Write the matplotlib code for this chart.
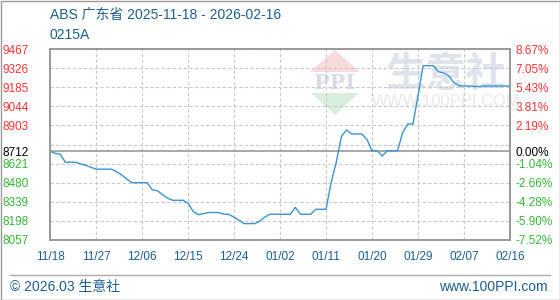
import numpy as np
import pandas as pd
import matplotlib
matplotlib.use("Agg")
import matplotlib.pyplot as plt
from matplotlib.patches import Polygon, Rectangle
from matplotlib.lines import Line2D

plt.rcParams['font.family'] = ['Liberation Sans', 'Noto Sans CJK SC']

# data
dates = ["2025-11-18", "2025-11-19", "2025-11-20", "2025-11-21", "2025-11-23",
         "2025-11-24", "2025-11-25", "2025-11-26", "2025-11-27", "2025-11-30",
         "2025-12-01", "2025-12-02", "2025-12-03", "2025-12-04", "2025-12-07",
         "2025-12-08", "2025-12-09", "2025-12-10", "2025-12-11", "2025-12-12",
         "2025-12-14", "2025-12-15", "2025-12-16", "2025-12-17", "2025-12-18",
         "2025-12-19", "2025-12-21", "2025-12-22", "2025-12-23", "2025-12-24",
         "2025-12-25", "2025-12-26", "2025-12-28", "2025-12-29", "2025-12-30",
         "2025-12-31", "2026-01-04", "2026-01-05", "2026-01-06", "2026-01-08",
         "2026-01-09", "2026-01-11", "2026-01-12", "2026-01-13", "2026-01-14",
         "2026-01-15", "2026-01-16", "2026-01-18", "2026-01-19", "2026-01-20",
         "2026-01-21", "2026-01-22", "2026-01-23", "2026-01-25", "2026-01-26",
         "2026-01-27", "2026-01-28", "2026-01-29", "2026-01-30", "2026-02-01",
         "2026-02-02", "2026-02-03", "2026-02-04", "2026-02-05", "2026-02-06",
         "2026-02-10", "2026-02-11", "2026-02-16"]
prices = [8712, 8697, 8690, 8631, 8631,
          8618, 8608, 8594, 8580, 8580,
          8562, 8538, 8508, 8480, 8480,
          8428, 8421, 8392, 8366, 8350,
          8350, 8330, 8268, 8244, 8252,
          8260, 8260, 8248, 8246, 8225,
          8202, 8178, 8178, 8195, 8225,
          8247, 8247, 8298, 8247, 8247,
          8284, 8284, 8480, 8630, 8820,
          8869, 8840, 8840, 8800, 8716,
          8716, 8677, 8716, 8716, 8850,
          8913, 8913, 9120, 9344, 9344,
          9300, 9290, 9270, 9220, 9196,
          9190, 9194, 9194]

base_price = 8712
y_labels = [9467, 9326, 9185, 9044, 8903, 8712, 8621, 8480, 8339, 8198, 8057]
grid_levels = [9467, 9326, 9185, 9044, 8903, 8762, 8621, 8480, 8339, 8198, 8057]
x_ticks = ["2025-11-18", "2025-11-27", "2025-12-06", "2025-12-15", "2025-12-24",
           "2026-01-02", "2026-01-11", "2026-01-20", "2026-01-29", "2026-02-07",
           "2026-02-16"]

title = "ABS 广东省 2025-11-18 - 2026-02-16"
subtitle = "0215A"

RED = "#ff3333"
GREEN = "#33b833"
BLUE_TXT = "#1c5f8f"
W, H = 560, 300

df = pd.DataFrame({"date": pd.to_datetime(dates), "price": prices})

fig = plt.figure(figsize=(5.6, 3.0), dpi=100)
ax = fig.add_axes([50 / W, 1 - 240 / H, 460 / W, 191 / H])

# watermark
wm = ax.transAxes
def px(x, y):
    return ((x - 50) / 460, (240 - y) / 191)
ax.add_patch(Polygon([px(310, 72), px(335, 50), px(360, 72)], closed=True,
                     transform=wm, facecolor="#f9dada", edgecolor="none", zorder=0))
ax.add_patch(Polygon([px(311, 93), px(359, 93), px(335, 115)], closed=True,
                     transform=wm, facecolor="#d9efdc", edgecolor="none", zorder=0))
ax.text(*px(335, 83), "PPI", transform=wm, ha="center", va="center",
        fontsize=15, family="DejaVu Serif", fontweight="bold", color="#d6dde9", zorder=0)
ax.text(*px(446, 74), "生意社", transform=wm, ha="center", va="center",
        fontsize=29, family="Noto Sans CJK SC", fontweight="bold", color="#dfe3ec", zorder=0)
ax.text(*px(446, 102), "WWW.100PPI.COM", transform=wm, ha="center", va="center",
        fontsize=12, color="#e8e8e8", zorder=0)

# grid
for g in grid_levels:
    ax.axhline(g, color="#c8c8c8", linestyle=(0, (3, 2)), linewidth=0.8, zorder=1)
xt = pd.to_datetime(x_ticks)
for t in xt:
    ax.axvline(t, color="#c8c8c8", linestyle=(0, (3, 2)), linewidth=0.8, zorder=1)
ax.axhline(base_price, color="#999999", linewidth=1.2, zorder=2)

ax.plot(df["date"], df["price"], color="#3a94d4", linewidth=1.0, zorder=3)

ax.set_xlim(xt[0], xt[-1])
ax.set_ylim(min(y_labels), max(y_labels))

ax.set_yticks(y_labels)
ax.set_yticklabels([str(v) for v in y_labels], fontsize=8.5)
for lab, v in zip(ax.get_yticklabels(), y_labels):
    lab.set_color(RED if v > base_price else (GREEN if v < base_price else "black"))
ax.tick_params(axis="y", length=0, pad=15.5)

ax.set_xticks(xt)
ax.set_xticklabels([t.strftime("%m/%d") for t in xt], fontsize=8.5, color=BLUE_TXT)
ax.tick_params(axis="x", length=0, pad=8)

ax2 = ax.twinx()
ax2.set_ylim(ax.get_ylim())
ax2.set_yticks(y_labels)
pct = [(v / base_price - 1) * 100 for v in y_labels]
ax2.set_yticklabels([f"{p:.2f}%" for p in pct], fontsize=8.5)
for lab, v in zip(ax2.get_yticklabels(), y_labels):
    lab.set_color(RED if v > base_price else (GREEN if v < base_price else "black"))
ax2.tick_params(axis="y", length=0, pad=4)

for a in (ax, ax2):
    for s in a.spines.values():
        s.set_color("#999999")
        s.set_linewidth(1.2)

# titles and footer
fig.text(50 / W, 1 - 15 / H, title, fontsize=10, color=BLUE_TXT, va="center")
fig.text(50 / W, 1 - 35 / H, subtitle, fontsize=10, color=BLUE_TXT, va="center")
fig.add_artist(Line2D([10 / W, 550 / W], [1 - 275 / H, 1 - 275 / H],
                      color="#aaaaaa", linewidth=1.0))
fig.text(10 / W, 1 - 287 / H, "© 2026.03 生意社", fontsize=10, color=BLUE_TXT, va="center")
fig.text(548 / W, 1 - 287 / H, "www.100PPI.com", fontsize=10, color=BLUE_TXT,
         va="center", ha="right")
fig.add_artist(Rectangle((0.5 / W, 0.5 / H), 1 - 1 / W, 1 - 1 / H, transform=fig.transFigure,
                         fill=False, edgecolor="#999999", linewidth=1.0))

fig.savefig("out.png", dpi=100)
